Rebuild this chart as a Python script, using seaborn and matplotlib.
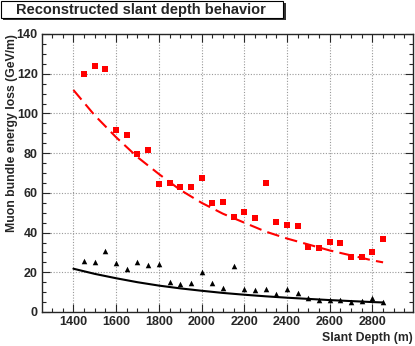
import numpy as np
import matplotlib
matplotlib.use('Agg')
from matplotlib import pyplot as plt
import matplotlib.ticker as ticker
from matplotlib.patches import Rectangle
import seaborn as sns

# measured points
depth = [1450, 1500, 1550, 1600, 1650, 1700, 1750, 1800, 1850, 1900, 1950, 2000,
         2050, 2100, 2150, 2200, 2250, 2300, 2350, 2400, 2450, 2500, 2550, 2600,
         2650, 2700, 2750, 2800, 2850]
red_loss = [119.8, 124.0, 122.3, 91.6, 89.0, 79.7, 81.4, 64.6, 65.0, 62.8, 62.8, 67.5,
            54.9, 55.2, 47.7, 50.2, 47.3, 64.8, 45.5, 43.6, 43.4, 32.9, 32.2, 35.1,
            34.6, 27.5, 27.9, 30.0, 36.9]
black_loss = [25.7, 25.3, 30.9, 24.7, 21.5, 25.3, 23.5, 24.3, 15.3, 14.1, 14.8, 20.0,
              14.8, 12.2, 23.3, 11.6, 10.9, 11.7, 8.9, 11.4, 9.4, 6.9, 6.2, 5.9,
              6.0, 4.9, 5.5, 7.2, 4.9]

# fitted curves
fit_depth = [1400, 1500, 1600, 1700, 1800, 1900, 2000, 2100, 2200, 2300, 2400,
             2500, 2600, 2700, 2800, 2850]
red_fit = [111.8, 99.0, 88.0, 78.0, 69.5, 61.5, 55.0, 49.5, 45.0, 40.5, 37.0,
           34.0, 31.0, 28.5, 26.0, 25.0]
black_fit = [21.8, 19.2, 17.0, 15.0, 13.3, 11.9, 10.7, 9.6, 8.7, 7.9, 7.2,
             6.6, 6.0, 5.5, 5.0, 4.8]

title = 'Reconstructed slant depth behavior'
x_label = 'Slant Depth (m)'
y_label = 'Muon bundle energy loss (GeV/m)'

sns.set_style('ticks')
plt.rcParams['font.family'] = ['Liberation Sans', 'DejaVu Sans']
plt.rcParams['font.weight'] = 'bold'

W, H = 415, 346
fig = plt.figure(figsize=(W / 100, H / 100), dpi=100)
ax = fig.add_axes([42 / W, 1 - 312 / H, (413 - 42) / W, (312 - 34) / H])

ax.grid(True, which='major', color='#999999', linestyle=(0, (1, 1.5)), linewidth=0.8)
ax.set_axisbelow(True)

sns.lineplot(x=fit_depth, y=red_fit, ax=ax, color='red', linewidth=1.5,
             linestyle=(0, (6, 3)), zorder=2)
sns.lineplot(x=fit_depth, y=black_fit, ax=ax, color='black', linewidth=1.5, zorder=2)
sns.scatterplot(x=depth, y=red_loss, ax=ax, color='red', marker='s', s=14,
                edgecolor='red', linewidth=0, zorder=3)
sns.scatterplot(x=depth, y=black_loss, ax=ax, color='black', marker='^', s=16,
                edgecolor='black', linewidth=0, zorder=3)

ax.set_xlim(1253, 2990)
ax.set_ylim(0, 140)
ax.xaxis.set_major_locator(ticker.MultipleLocator(200))
ax.xaxis.set_minor_locator(ticker.MultipleLocator(50))
ax.yaxis.set_major_locator(ticker.MultipleLocator(20))
ax.yaxis.set_minor_locator(ticker.MultipleLocator(5))
ax.tick_params(which='both', direction='in', top=True, right=True,
               labelsize=9, width=0.8, pad=3)
ax.tick_params(which='major', length=6)
ax.tick_params(which='minor', length=3)
for sp in ax.spines.values():
    sp.set_linewidth(1.0)

ax.set_xlabel(x_label, fontsize=8.8, fontweight='bold', loc='right')
ax.set_ylabel(y_label, fontsize=8.8, fontweight='bold', loc='top')
ax.xaxis.set_label_coords(1.0, (312 - 332) / 278)
ax.yaxis.set_label_coords((18 - 42) / 371, 1.0)

# title box with shadow, ROOT style
def px_rect(x0, y0, x1, y1, **kw):
    return Rectangle((x0 / W, 1 - y1 / H), (x1 - x0) / W, (y1 - y0) / H,
                     transform=fig.transFigure, **kw)

fig.patches.append(px_rect(3, 3, 286, 20, facecolor='#333333', edgecolor='none'))
fig.patches.append(px_rect(1, 1, 283, 18, facecolor='white', edgecolor='black',
                           linewidth=0.8))
fig.text(141 / W, 1 - 10 / H, title, ha='center', va='center',
         fontsize=10.5, fontweight='bold')

fig.savefig('out.png', dpi=100)
